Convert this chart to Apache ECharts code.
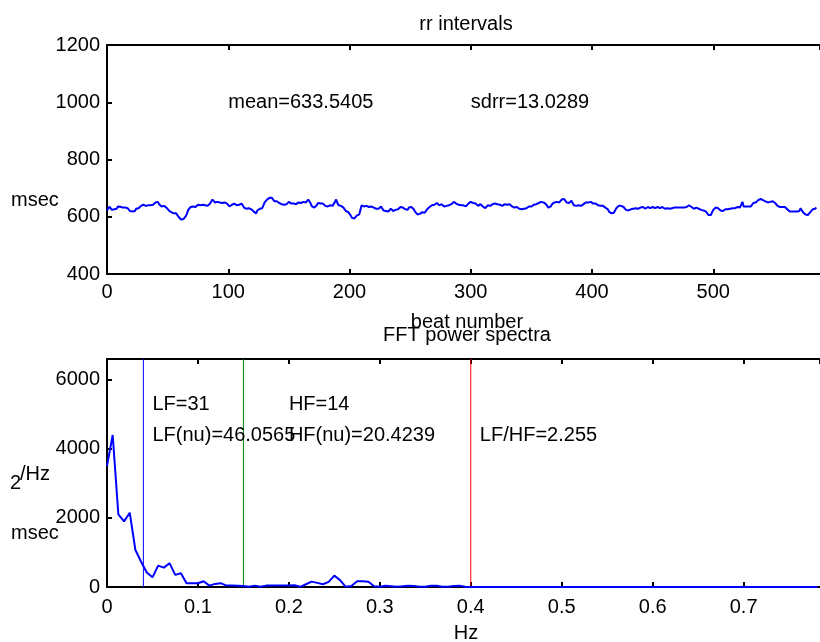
<!DOCTYPE html>
<html>
<head>
<meta charset="utf-8">
<script src="https://cdn.jsdelivr.net/npm/echarts@6/dist/echarts.min.js"></script>
<style>
  html, body { margin: 0; padding: 0; background: #fff; }
  #main { width: 820px; height: 642px; }
</style>
</head>
<body>
<div id="main"></div>
<script>
// rr intervals, one value per beat (msec)
const rrValues = [
  622,628,635,630,624,622,626,624,628,636,
  638,635,630,632,628,632,634,630,626,620,
  616,618,615,620,628,632,630,634,638,640,
  642,640,638,642,640,644,640,638,642,646,
  650,648,652,644,638,636,634,638,636,632,
  628,622,620,616,614,612,610,612,606,600,
  594,590,596,592,598,602,612,624,630,634,
  632,636,638,634,640,642,644,640,638,642,
  644,640,642,638,640,646,652,660,656,650,
  648,652,646,650,644,648,646,650,652,646,
  640,636,638,642,644,646,642,640,640,642,
  640,646,644,632,630,628,632,630,628,626,
  624,618,614,612,622,626,628,626,630,640,
  650,656,660,664,666,668,666,660,654,652,
  654,650,648,646,644,640,642,640,644,650,
  652,648,646,648,646,650,644,646,650,652,
  648,650,652,648,650,656,660,658,646,636,
  634,632,638,640,648,654,646,644,646,642,
  638,634,636,634,640,642,638,640,652,660,
  648,640,636,638,634,632,626,620,622,616,
  612,604,596,592,594,598,604,606,608,624,
  640,638,636,640,638,636,634,638,636,640,
  632,630,628,630,628,632,636,630,622,618,
  620,616,618,624,628,624,620,622,624,622,
  626,630,634,636,632,630,626,628,624,632,
  636,634,630,626,618,612,608,606,610,614,
  616,618,614,620,626,628,634,636,640,644,
  642,646,648,644,640,646,644,638,636,640,
  638,642,640,636,644,648,652,650,646,640,
  642,638,640,644,640,638,636,640,646,650,
  652,650,648,652,646,642,638,640,644,638,
  636,632,630,636,640,642,638,640,644,648,
  646,648,644,640,642,640,638,642,644,640,
  642,646,644,640,636,634,632,636,634,630,
  628,630,626,624,628,626,630,634,636,632,
  636,640,642,646,644,646,648,650,652,654,
  650,646,644,640,632,630,636,644,648,650,
  648,652,646,650,654,660,658,662,656,650,
  646,648,652,656,654,640,636,638,636,640,
  642,638,640,644,646,650,652,650,648,652,
  648,646,644,646,642,640,642,638,640,638,
  636,632,630,626,618,614,612,616,614,620,
  630,636,638,636,638,640,634,628,624,630,
  622,628,626,632,628,634,630,632,628,634,
  632,630,634,632,628,632,634,632,630,632,
  634,632,630,632,634,632,630,632,634,632,
  628,622,630,624,628,632,630,634,632,630,
  632,634,632,630,632,634,632,630,634,636,
  640,642,634,630,628,630,632,630,628,626,
  624,626,622,620,618,612,606,604,606,616,
  624,630,632,628,630,626,622,624,620,624,
  626,622,626,624,628,632,630,634,630,626,
  634,636,632,636,652,636,634,636,634,636,
  632,636,634,648,652,650,654,658,660,662,
  660,658,660,654,652,650,654,652,650,654,
  652,648,642,638,636,634,636,634,636,634,
  632,626,620,618,616,618,616,618,616,618,
  618,620,630,626,616,612,608,604,606,610,
  616,620,626,630,628,632
];

// FFT power spectrum, bins of 0.00625 Hz
const freqStep = 0.00625;
const psdValues = [
  3500,4400,2100,1900,2150,1070,730,420,280,620,
  560,690,350,400,110,110,110,165,40,90,
  110,40,40,35,30,5,40,5,40,40,
  40,40,40,50,5,80,155,120,80,150,
  330,200,5,30,165,165,150,20,5,39,
  25,5,20,39,30,5,5,39,39,5,
  5,30,35,10,0,0,0,0,0,0,
  0,0,0,0,0,0,0,0,0,0,
  0,0,0,0,0,0,0,0,0,0,
  0,0,0,0,0,0,0,0,0,0,
  0,0,0,0,0,0,0,0,0,0,
  0,0,0,0,0,0,0,0,0,0,
  0,0,0,0,0,0
];
const psdMax = 6600;

// band limits (Hz)
const bandLines = [
  { f: 0.04, color: '#0000ff' },
  { f: 0.15, color: '#008000' },
  { f: 0.4, color: '#ff0000' }
];

const rrNotes = [
  { beat: 100, msec: 1000, text: 'mean=633.5405' },
  { beat: 300, msec: 1000, text: 'sdrr=13.0289' }
];
const psdNotes = [
  { f: 0.05, p: 5280, text: 'LF=31' },
  { f: 0.2, p: 5280, text: 'HF=14' },
  { f: 0.05, p: 4380, text: 'LF(nu)=46.0565' },
  { f: 0.2, p: 4380, text: 'HF(nu)=20.4239' },
  { f: 0.41, p: 4380, text: 'LF/HF=2.255' }
];

const FONT = '"Liberation Sans", Arial, sans-serif';
const black = '#000';

function boxAxis(gridIndex, position, min, max, interval, showLabel, margin) {
  return {
    type: 'value', gridIndex: gridIndex, position: position,
    min: min, max: max, interval: interval,
    axisLine: { show: true, onZero: false, lineStyle: { color: black, width: 2 } },
    axisTick: { show: true, inside: true, length: 5, lineStyle: { color: black, width: 2 } },
    axisLabel: {
      show: showLabel, color: black, fontSize: 20, fontFamily: FONT, margin: margin,
      showMaxLabel: false,
      formatter: function (v) { return String(+v.toFixed(4)); }
    },
    splitLine: { show: false }
  };
}

function noteData(list, xKey, yKey) {
  return list.map(function (n) {
    return { coord: [n[xKey], n[yKey]], name: n.text };
  });
}

function textEl(text, x, y, align) {
  return {
    type: 'text', x: x, y: y,
    style: { text: text, fill: black, font: '20px ' + FONT, align: align || 'center', verticalAlign: 'middle' }
  };
}

const noteLabel = {
  show: true, position: 'right', distance: 0, formatter: '{b}',
  color: black, fontSize: 20, fontFamily: FONT
};

const topY = boxAxis(0, 'left', 400, 1200, 200, true, 7);
topY.axisLabel.showMaxLabel = true;

const option = {
  animation: false,
  backgroundColor: '#fff',
  grid: [
    { left: 107, top: 45, width: 716, height: 229 },
    { left: 107, top: 359, width: 716, height: 228 }
  ],
  xAxis: [
    boxAxis(0, 'bottom', 0, 588, 100, true, 8),
    boxAxis(0, 'top', 0, 588, 100, false, 8),
    boxAxis(1, 'bottom', 0, 0.784, 0.1, true, 10),
    boxAxis(1, 'top', 0, 0.784, 0.1, false, 10)
  ],
  yAxis: [
    topY,
    boxAxis(1, 'left', 0, psdMax, 2000, true, 7)
  ],
  series: [
    {
      type: 'line', xAxisIndex: 0, yAxisIndex: 0,
      data: rrValues.map(function (v, i) { return [i, v]; }),
      showSymbol: false, lineStyle: { color: '#0000ff', width: 2 },
      markPoint: { symbol: 'circle', symbolSize: 0, label: noteLabel, data: noteData(rrNotes, 'beat', 'msec') }
    }
  ].concat(bandLines.map(function (b) {
    return {
      type: 'line', xAxisIndex: 2, yAxisIndex: 1, silent: true,
      data: [[b.f, 0], [b.f, psdMax]],
      showSymbol: false, lineStyle: { color: b.color, width: 1 }, z: 2
    };
  })).concat([
    {
      type: 'line', xAxisIndex: 2, yAxisIndex: 1,
      data: psdValues.map(function (v, i) { return [i * freqStep, v]; }),
      showSymbol: false, lineStyle: { color: '#0000ff', width: 2 }, z: 3,
      markPoint: { symbol: 'circle', symbolSize: 0, label: noteLabel, data: noteData(psdNotes, 'f', 'p') }
    }
  ]),
  graphic: [
    textEl('rr intervals', 466, 24),
    textEl('beat number', 467, 322),
    textEl('FFT power spectra', 467, 335),
    textEl('Hz', 466, 633),
    textEl('msec', 11, 200, 'left'),
    textEl('2', 10, 483, 'left'),
    textEl('/Hz', 20, 474, 'left'),
    textEl('msec', 11, 533, 'left')
  ]
};

const myChart = echarts.init(document.getElementById('main'));
myChart.setOption(option);
</script>
</body>
</html>
